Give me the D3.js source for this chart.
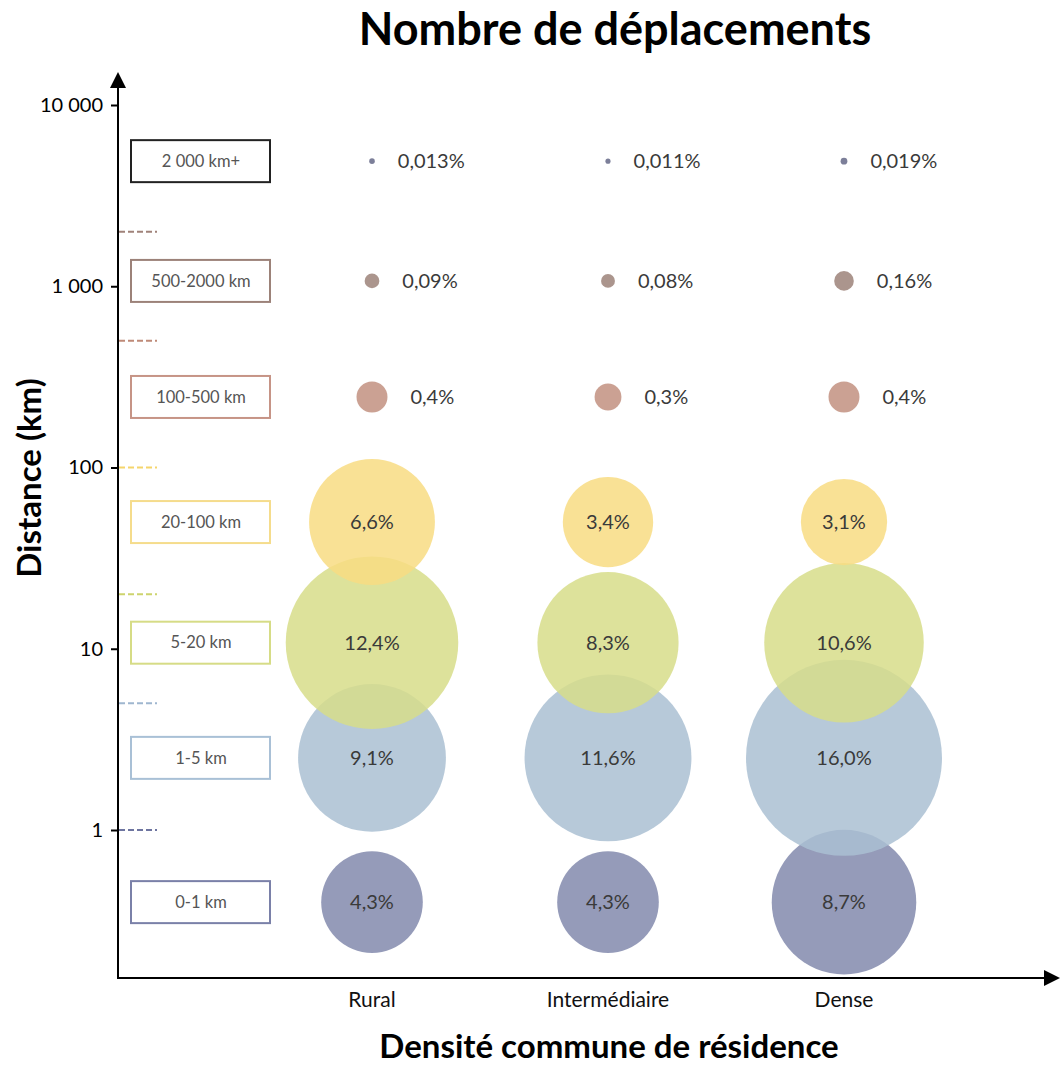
<!DOCTYPE html>
<html>
<head>
<meta charset="utf-8">
<script src="https://cdn.jsdelivr.net/npm/d3@7"></script>
<style>
  body { margin: 0; background: #fff; }
  svg text { font-family: Lato, "Open Sans", sans-serif; }
</style>
</head>
<body>
<div id="chart"></div>
<script>
// --- Data ---
const densities = ['Rural', 'Intermédiaire', 'Dense'];
const bands = ['0-1 km', '1-5 km', '5-20 km', '20-100 km', '100-500 km', '500-2000 km', '2 000 km+'];
const bandCenters = [0.4, 2.5, 10.8, 50, 245, 1070, 4900];   // position of each band on the distance axis
const bandLimits = [1, 5, 20, 100, 500, 2000];               // upper bound of each band (dashes)
const rural = [4.3, 9.1, 12.4, 6.6, 0.4, 0.09, 0.013];
const intermediaire = [4.3, 11.6, 8.3, 3.4, 0.3, 0.08, 0.011];
const dense = [8.7, 16.0, 10.6, 3.1, 0.4, 0.16, 0.019];
const yTicks = [1, 10, 100, 1000, 10000];

const colors = ['#828aad', '#aabfd2', '#d7dd89', '#f8dc82', '#c29080', '#9c8279', '#656887'];
const borders = ['#7a80a8', '#a9c0d6', '#d6dc86', '#f5dc8c', '#c69486', '#9c8279', '#222222'];
const dashColors = ['#6e75a0', '#9fb6cf', '#cdd46e', '#f5d56c', '#bf8a78', '#a0827a'];

const W = 1061, H = 1065;
const svg = d3.select('#chart').append('svg').attr('width', W).attr('height', H);

// --- Scales ---
const x = d3.scalePoint().domain(densities).range([372, 844]);
const y = d3.scaleLog().domain([1, 10000]).range([830, 105]);
const r = d3.scaleSqrt().domain([0, 16]).range([0, 98]);
const axisX0 = 118, axisY0 = 978;

const fmt = v => (v >= 1 ? v.toFixed(1) : String(v)).replace('.', ',') + '%';

// --- Title ---
svg.append('text')
    .attr('x', 615).attr('y', 45)
    .attr('text-anchor', 'middle')
    .attr('font-size', 45).attr('font-weight', 'bold')
    .text('Nombre de déplacements');

// --- Bubbles (bottom band first, so upper bands overlap lower ones) ---
const series = [rural, intermediaire, dense];
const points = [];
bands.forEach((b, i) => {
    densities.forEach((d, j) => {
        points.push({ band: i, dens: d, value: series[j][i] });
    });
});

svg.append('g').selectAll('circle')
    .data(points)
    .enter().append('circle')
    .attr('cx', d => x(d.dens))
    .attr('cy', d => y(bandCenters[d.band]))
    .attr('r', d => r(d.value))
    .attr('fill', d => colors[d.band])
    .attr('fill-opacity', 0.85);

svg.append('g').selectAll('text')
    .data(points)
    .enter().append('text')
    .attr('x', d => d.value >= 1 ? x(d.dens) : x(d.dens) + r(d.value) + 23)
    .attr('y', d => y(bandCenters[d.band]))
    .attr('dy', '0.35em')
    .attr('text-anchor', d => d.value >= 1 ? 'middle' : 'start')
    .attr('font-size', 20)
    .attr('fill', '#3a3a3a')
    .text(d => fmt(d.value));

// --- Band labels (boxes) ---
const boxes = svg.append('g').selectAll('g')
    .data(bands)
    .enter().append('g')
    .attr('transform', (d, i) => `translate(131,${y(bandCenters[i])})`);

boxes.append('rect')
    .attr('x', 0).attr('y', -21)
    .attr('width', 139).attr('height', 42)
    .attr('fill', '#fff')
    .attr('stroke', (d, i) => borders[i])
    .attr('stroke-width', 2);

boxes.append('text')
    .attr('x', 70).attr('y', 0)
    .attr('dy', '0.35em')
    .attr('text-anchor', 'middle')
    .attr('font-size', 16.5)
    .attr('fill', '#555')
    .text(d => d);

// --- Band limit dashes ---
svg.append('g').selectAll('line')
    .data(bandLimits)
    .enter().append('line')
    .attr('x1', axisX0 + 1).attr('x2', 157)
    .attr('y1', d => y(d)).attr('y2', d => y(d))
    .attr('stroke', (d, i) => dashColors[i])
    .attr('stroke-width', 2)
    .attr('stroke-dasharray', '6,3');

// --- Axes ---
svg.append('line')
    .attr('x1', axisX0).attr('x2', axisX0)
    .attr('y1', axisY0).attr('y2', 86)
    .attr('stroke', '#000').attr('stroke-width', 2);
svg.append('path')
    .attr('d', `M${axisX0 - 8},88 L${axisX0},72 L${axisX0 + 8},88 Z`)
    .attr('fill', '#000');

svg.append('line')
    .attr('x1', axisX0 - 1).attr('x2', 1046)
    .attr('y1', axisY0).attr('y2', axisY0)
    .attr('stroke', '#000').attr('stroke-width', 2);
svg.append('path')
    .attr('d', `M1044,${axisY0 - 8} L1060,${axisY0} L1044,${axisY0 + 8} Z`)
    .attr('fill', '#000');

const yAxis = svg.append('g')
    .attr('transform', `translate(${axisX0},0)`)
    .call(d3.axisLeft(y).tickValues(yTicks).tickSize(7).tickPadding(8)
        .tickFormat(d => d3.format(',')(d).replace(/,/g, ' ')));
yAxis.select('.domain').remove();
yAxis.selectAll('line').attr('stroke', '#000').attr('stroke-width', 2);
yAxis.selectAll('text')
    .attr('font-size', 20).attr('fill', '#000')
    .style('font-family', 'Lato, sans-serif');

svg.append('g').selectAll('text')
    .data(densities)
    .enter().append('text')
    .attr('x', d => x(d))
    .attr('y', 1007)
    .attr('text-anchor', 'middle')
    .attr('font-size', 21)
    .attr('fill', '#111')
    .text(d => d);

// --- Axis labels ---
svg.append('text')
    .attr('x', 609).attr('y', 1058)
    .attr('text-anchor', 'middle')
    .attr('font-size', 33).attr('font-weight', 'bold')
    .text('Densité commune de résidence');

svg.append('text')
    .attr('transform', 'translate(41,478) rotate(-90)')
    .attr('text-anchor', 'middle')
    .attr('font-size', 33).attr('font-weight', 'bold')
    .text('Distance (km)');
</script>
</body>
</html>
